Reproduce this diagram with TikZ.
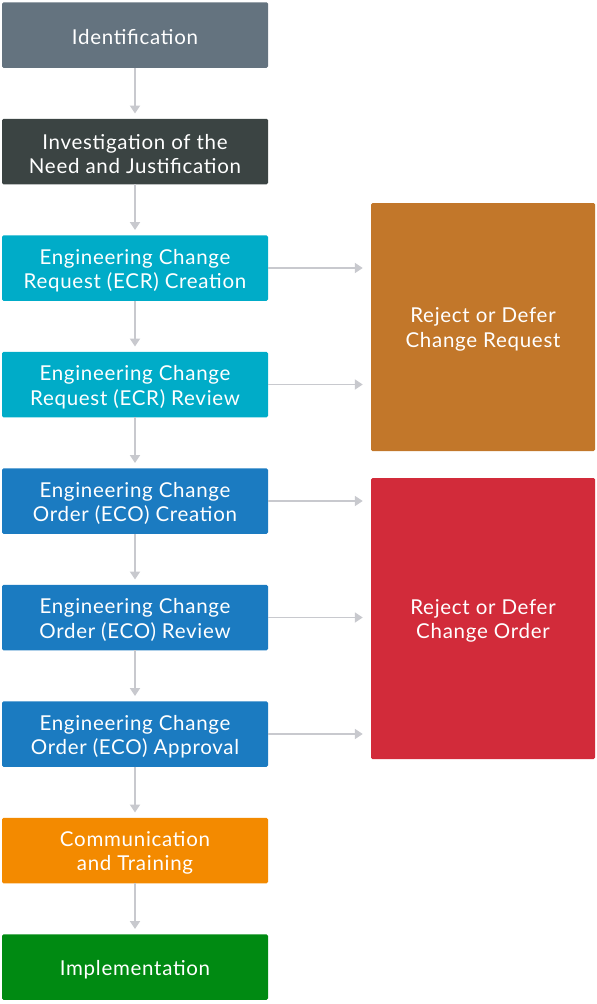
\documentclass[tikz,border=0pt]{standalone}
\usepackage{fontspec}
\setmainfont{Lato}[LetterSpace=3.5]
\usetikzlibrary{arrows.meta}
\definecolor{cident}{HTML}{64737F}
\definecolor{cinv}{HTML}{3B4443}
\definecolor{cecr}{HTML}{00ACC8}
\definecolor{ceco}{HTML}{1B7BC1}
\definecolor{ccomm}{HTML}{F38A00}
\definecolor{cimpl}{HTML}{008A12}
\definecolor{crej}{HTML}{C2772A}
\definecolor{cred}{HTML}{D22B3A}
\definecolor{carr}{HTML}{C8C9CE}
\begin{document}
\begin{tikzpicture}[x=1pt,y=-1pt,
  boxtext/.style={text=white, align=center, font=\fontsize{20.5}{24.5}\selectfont, inner sep=0pt, yshift=-2.5pt},
  stepbox/.style={rectangle, rounded corners=1.5pt, minimum width=266pt, minimum height=65.5pt, inner sep=0pt},
  sidebox/.style={rectangle, rounded corners=1.5pt, minimum width=224pt, inner sep=0pt},
  conn/.style={draw=carr, line width=1.8pt, -{Triangle[length=8pt,width=10pt]}, shorten >=5pt}
]
\useasboundingbox (0,0) rectangle (597,1004);
\node[stepbox, fill=cident] (s1) at (135,35) {};
\node[stepbox, fill=cinv] (s2) at (135,151.5) {};
\node[stepbox, fill=cecr] (s3) at (135,268) {};
\node[stepbox, fill=cecr] (s4) at (135,384.5) {};
\node[stepbox, fill=ceco] (s5) at (135,501) {};
\node[stepbox, fill=ceco] (s6) at (135,617.5) {};
\node[stepbox, fill=ceco] (s7) at (135,734) {};
\node[stepbox, fill=ccomm] (s8) at (135,850.5) {};
\node[stepbox, fill=cimpl] (s9) at (135,967) {};
\node[sidebox, fill=crej, minimum height=248pt] (r1) at (483,327) {};
\node[sidebox, fill=cred, minimum height=281pt] (r2) at (483,618.5) {};
\node[boxtext] (t1) at (s1) {Identification};
\node[boxtext] (t2) at (s2) {Investigation of the\\Need and Justification};
\node[boxtext] (t3) at (s3) {Engineering Change\\Request (ECR) Creation};
\node[boxtext] (t4) at (s4) {Engineering Change\\Request (ECR) Review};
\node[boxtext] (t5) at (s5) {Engineering Change\\Order (ECO) Creation};
\node[boxtext] (t6) at (s6) {Engineering Change\\Order (ECO) Review};
\node[boxtext] (t7) at (s7) {Engineering Change\\Order (ECO) Approval};
\node[boxtext] (t8) at (s8) {Communication\\and Training};
\node[boxtext] (t9) at (s9) {Implementation};
\node[boxtext] (tr1) at (r1) {Reject or Defer\\Change Request};
\node[boxtext] (tr2) at (r2) {Reject or Defer\\Change Order};
\foreach \a/\b in {s1/s2,s2/s3,s3/s4,s4/s5,s5/s6,s6/s7,s7/s8,s8/s9}
  \draw[conn] (\a.south) -- (\b.north);
\foreach \a/\b in {s3/r1,s4/r1}
  \draw[conn, shorten >=8pt] (\a.east) -- (\a.east -| \b.west);
\foreach \a/\b in {s5/r2,s6/r2,s7/r2}
  \draw[conn, shorten >=8pt] (\a.east) -- (\a.east -| \b.west);
\end{tikzpicture}
\end{document}
